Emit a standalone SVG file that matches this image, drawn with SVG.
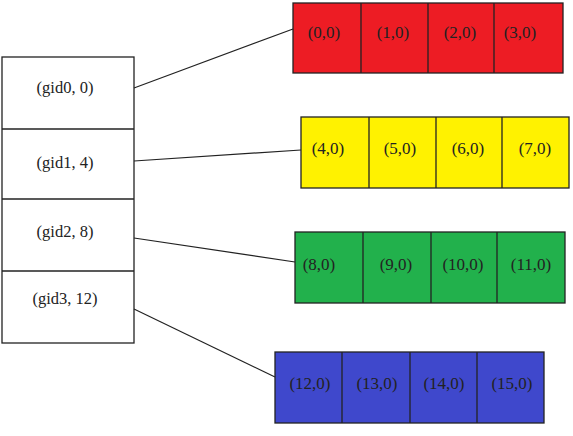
<svg xmlns="http://www.w3.org/2000/svg" width="573" height="436" viewBox="0 0 573 436">
<style>
text{font-family:"Liberation Serif","Times New Roman",serif;font-size:17px;fill:#222;text-anchor:middle}
.g{font-size:16.5px}
.c{stroke:#222;stroke-width:1.3}
.cell{stroke:#222;stroke-width:1.3}
.conn{stroke:#222;stroke-width:1.2;fill:none}
</style>
<rect width="573" height="436" fill="#fff"/>
<g id="gid-table">
<rect x="2" y="57" width="132" height="286" fill="#fff" class="c"/>
<line x1="2" y1="129" x2="134" y2="129" class="c"/>
<line x1="2" y1="199" x2="134" y2="199" class="c"/>
<line x1="2" y1="271" x2="134" y2="271" class="c"/>
<text class="g" x="65" y="93">(gid0, 0)</text>
<text class="g" x="65" y="168">(gid1, 4)</text>
<text class="g" x="65" y="237">(gid2, 8)</text>
<text class="g" x="65" y="304">(gid3, 12)</text>
</g>
<g id="red">
<rect x="293" y="3" width="270" height="70" fill="#ED1C24" class="cell"/>
<line x1="361" y1="3" x2="361" y2="73" class="cell"/>
<line x1="428" y1="3" x2="428" y2="73" class="cell"/>
<line x1="494" y1="3" x2="494" y2="73" class="cell"/>
<text x="324" y="38">(0,0)</text>
<text x="393" y="38">(1,0)</text>
<text x="460" y="38">(2,0)</text>
<text x="520" y="38">(3,0)</text>
</g>
<g id="yellow">
<rect x="301" y="117" width="268" height="71" fill="#FFF200" class="cell"/>
<line x1="369" y1="117" x2="369" y2="188" class="cell"/>
<line x1="436" y1="117" x2="436" y2="188" class="cell"/>
<line x1="502" y1="117" x2="502" y2="188" class="cell"/>
<text x="328" y="154">(4,0)</text>
<text x="400" y="154">(5,0)</text>
<text x="468" y="154">(6,0)</text>
<text x="535" y="154">(7,0)</text>
</g>
<g id="green">
<rect x="295" y="232" width="270" height="71" fill="#22B14C" class="cell"/>
<line x1="363" y1="232" x2="363" y2="303" class="cell"/>
<line x1="431" y1="232" x2="431" y2="303" class="cell"/>
<line x1="497" y1="232" x2="497" y2="303" class="cell"/>
<text x="319" y="270">(8,0)</text>
<text x="396" y="270">(9,0)</text>
<text x="463" y="270">(10,0)</text>
<text x="531" y="270">(11,0)</text>
</g>
<g id="blue">
<rect x="275" y="352" width="269" height="71" fill="#3F48CC" class="cell"/>
<line x1="342" y1="352" x2="342" y2="423" class="cell"/>
<line x1="410" y1="352" x2="410" y2="423" class="cell"/>
<line x1="477" y1="352" x2="477" y2="423" class="cell"/>
<text x="310" y="389">(12,0)</text>
<text x="377" y="389">(13,0)</text>
<text x="444" y="389">(14,0)</text>
<text x="512" y="389">(15,0)</text>
</g>
<g id="connectors">
<line x1="134" y1="88" x2="293" y2="29" class="conn"/>
<line x1="134" y1="161" x2="301" y2="150" class="conn"/>
<line x1="134" y1="238" x2="295" y2="262" class="conn"/>
<line x1="134" y1="309" x2="275" y2="377" class="conn"/>
</g>
</svg>
